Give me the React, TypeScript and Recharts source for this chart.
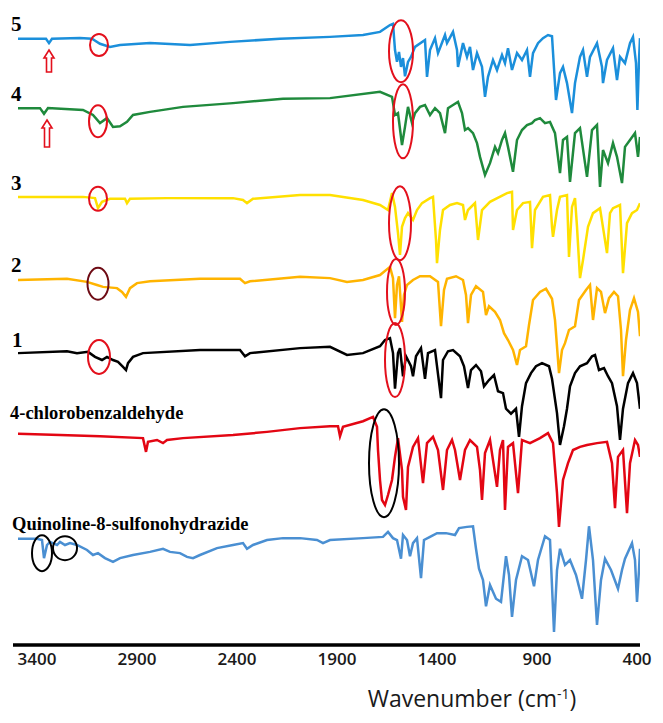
import { LineChart, Line, XAxis, YAxis, ReferenceDot, Customized } from "recharts";

// page has an 8px body margin by default, the figure fills the window
if (typeof document !== "undefined") document.body.style.margin = "0";

type Pt = [number, number]; // [wavenumber cm-1, transmittance (a.u., offset)]

const TICKS = [3400, 2900, 2400, 1900, 1400, 900, 400];

const compound5: Pt[] = [
  [3495, 97.0], [3385, 97.0], [3355, 97.0], [3340, 96.3], [3325, 97.0], [3185, 97.1],
  [3125, 97.0], [3085, 96.2], [3035, 95.7], [2985, 96.0], [2835, 96.3], [2635, 96.0],
  [2435, 96.5], [2185, 97.0], [1935, 97.3], [1770, 97.6], [1685, 98.1], [1635, 99.2],
  [1620, 99.4], [1610, 95.2], [1600, 93.3], [1590, 94.9], [1580, 92.5], [1570, 93.9],
  [1560, 91.0], [1545, 93.3], [1530, 94.1], [1510, 95.7], [1460, 96.8], [1450, 90.9],
  [1435, 95.2], [1410, 97.1], [1395, 94.7], [1360, 97.6], [1350, 96.3], [1320, 98.1],
  [1300, 95.2], [1295, 92.5], [1270, 96.3], [1250, 94.1], [1235, 95.7], [1220, 92.0],
  [1200, 94.7], [1175, 92.5], [1160, 87.7], [1145, 90.9], [1120, 93.6], [1100, 92.0],
  [1075, 94.4], [1060, 93.1], [1045, 95.5], [1025, 92.0], [1000, 94.7], [975, 93.6],
  [950, 95.2], [935, 90.9], [920, 94.7], [895, 96.3], [870, 97.1], [845, 97.6],
  [825, 97.4], [805, 87.2], [785, 91.5], [770, 92.5], [750, 89.9], [725, 85.1],
  [710, 89.9], [685, 94.1], [670, 95.2], [650, 90.9], [635, 94.1], [600, 96.3],
  [575, 92.5], [570, 89.9], [550, 93.6], [520, 95.5], [500, 90.4], [485, 94.1],
  [460, 93.1], [435, 96.3], [420, 97.3], [405, 93.1], [398, 85.6], [390, 93.6], [385, 97.1],
];

const compound4: Pt[] = [
  [3495, 85.9], [3385, 85.9], [3365, 85.0], [3345, 85.9], [3170, 85.6], [3120, 84.8],
  [3085, 83.5], [3050, 84.3], [3020, 82.9], [2985, 83.0], [2950, 83.7], [2920, 84.8],
  [2835, 85.3], [2670, 86.1], [2420, 86.7], [2170, 87.4], [1935, 87.5], [1685, 88.5],
  [1625, 87.7], [1610, 84.8], [1595, 85.1], [1575, 80.0], [1560, 82.9], [1545, 86.1],
  [1525, 83.5], [1510, 85.1], [1485, 86.1], [1460, 86.4], [1435, 84.8], [1410, 85.9],
  [1385, 85.1], [1360, 81.9], [1345, 85.9], [1320, 86.4], [1295, 86.9], [1275, 85.1],
  [1260, 82.4], [1245, 82.7], [1220, 81.9], [1200, 80.3], [1185, 78.1], [1160, 75.2],
  [1135, 77.1], [1110, 79.7], [1095, 78.7], [1075, 80.8], [1060, 81.9], [1045, 79.7],
  [1020, 75.7], [1000, 80.8], [975, 82.4], [950, 83.2], [925, 83.5], [910, 84.0],
  [885, 84.3], [860, 83.5], [835, 83.7], [810, 81.9], [785, 75.5], [770, 80.8],
  [750, 81.3], [735, 74.1], [710, 81.9], [685, 82.7], [650, 74.9], [625, 82.4],
  [600, 83.2], [585, 73.3], [570, 79.2], [545, 77.1], [520, 80.3], [500, 78.1],
  [475, 73.9], [460, 79.7], [435, 80.8], [410, 81.9], [395, 78.1], [385, 81.3],
];

const compound3: Pt[] = [
  [3495, 71.7], [3170, 71.7], [3110, 71.5], [3095, 69.9], [3075, 70.9], [3035, 71.4],
  [2960, 71.4], [2950, 70.7], [2935, 71.4], [2750, 71.5], [2420, 71.5], [2370, 71.2],
  [2350, 70.7], [2320, 71.4], [2085, 72.0], [1935, 72.0], [1770, 71.2], [1685, 70.4],
  [1645, 69.6], [1625, 72.3], [1610, 70.1], [1595, 65.9], [1585, 62.4], [1575, 66.9],
  [1560, 68.3], [1545, 69.1], [1520, 68.0], [1500, 69.6], [1475, 70.7], [1435, 71.5],
  [1420, 71.7], [1405, 64.8], [1400, 61.1], [1385, 66.4], [1370, 69.6], [1335, 70.4],
  [1300, 70.7], [1270, 70.4], [1260, 68.0], [1245, 69.6], [1210, 70.7], [1195, 64.8],
  [1175, 69.6], [1135, 70.9], [1050, 72.3], [1025, 72.5], [1020, 66.4], [1000, 69.6],
  [970, 70.7], [935, 70.9], [925, 63.5], [910, 69.6], [870, 71.7], [835, 72.0],
  [825, 66.9], [820, 65.3], [800, 69.6], [785, 71.7], [750, 72.0], [740, 62.1],
  [725, 70.1], [710, 71.5], [700, 66.9], [685, 58.7], [670, 61.6], [645, 66.9],
  [620, 69.1], [585, 69.9], [550, 62.7], [535, 69.1], [520, 69.9], [485, 70.4],
  [470, 59.5], [450, 67.5], [425, 69.1], [400, 69.6], [385, 70.7],
];

const compound2: Pt[] = [
  [3495, 58.4], [3250, 58.6], [3150, 58.1], [3100, 57.6], [3070, 57.3], [3000, 57.1],
  [2975, 56.5], [2955, 55.7], [2935, 57.1], [2900, 57.9], [2835, 58.2], [2585, 58.6],
  [2385, 58.6], [2360, 57.9], [2335, 58.2], [2085, 58.9], [1935, 58.7], [1850, 58.1],
  [1770, 58.4], [1685, 59.2], [1635, 60.5], [1620, 58.7], [1610, 52.3], [1600, 57.6],
  [1590, 59.0], [1575, 51.7], [1565, 56.0], [1550, 57.6], [1520, 58.4], [1485, 59.0],
  [1435, 59.0], [1395, 58.1], [1380, 51.0], [1365, 56.8], [1350, 58.6], [1305, 59.0],
  [1270, 58.4], [1255, 56.0], [1245, 51.5], [1230, 56.0], [1205, 57.4], [1170, 56.5],
  [1155, 52.8], [1140, 54.2], [1110, 53.3], [1085, 52.0], [1065, 49.9], [1045, 48.8],
  [1020, 47.2], [1000, 44.8], [985, 47.2], [955, 47.8], [940, 51.2], [920, 55.2],
  [885, 56.5], [855, 57.0], [825, 55.4], [810, 52.0], [790, 43.5], [775, 47.2],
  [760, 48.3], [740, 50.4], [710, 51.0], [690, 55.2], [655, 56.8], [635, 57.6],
  [620, 52.0], [600, 57.1], [580, 56.5], [560, 53.1], [540, 55.5], [515, 56.5],
  [495, 55.8], [480, 50.4], [470, 43.0], [455, 48.8], [435, 53.6], [415, 55.5],
  [395, 53.3], [385, 49.4],
];

const compound1: Pt[] = [
  [3495, 46.7], [3250, 47.0], [3200, 46.7], [3145, 46.9], [3110, 46.1], [3075, 45.6],
  [3050, 46.1], [3020, 45.6], [2995, 45.3], [2970, 44.5], [2955, 44.0], [2945, 45.1],
  [2920, 46.1], [2870, 46.7], [2585, 47.2], [2385, 47.2], [2360, 46.2], [2335, 46.7],
  [2085, 47.5], [1935, 47.7], [1850, 46.4], [1770, 46.7], [1685, 47.8], [1660, 48.8],
  [1635, 49.1], [1620, 46.7], [1610, 41.0], [1595, 46.7], [1585, 47.5], [1570, 43.0],
  [1555, 46.2], [1530, 44.6], [1520, 43.0], [1505, 46.2], [1480, 47.5], [1460, 42.6],
  [1445, 46.7], [1410, 47.2], [1380, 39.5], [1370, 45.6], [1345, 47.0], [1320, 47.2],
  [1285, 46.2], [1265, 44.6], [1245, 41.1], [1230, 44.0], [1205, 44.8], [1180, 43.8],
  [1165, 41.4], [1140, 42.4], [1115, 43.2], [1095, 40.6], [1070, 40.3], [1055, 37.8],
  [1030, 37.0], [1005, 37.8], [990, 33.3], [975, 38.2], [955, 41.9], [930, 43.5],
  [905, 44.6], [875, 45.1], [840, 44.6], [825, 42.6], [800, 37.1], [785, 32.0],
  [765, 35.0], [750, 37.8], [735, 41.4], [710, 43.5], [685, 44.6], [650, 45.1],
  [625, 46.2], [610, 46.4], [590, 44.0], [565, 44.3], [545, 43.0], [525, 41.9],
  [500, 38.2], [485, 32.8], [470, 37.8], [445, 41.9], [420, 43.5], [400, 41.9], [385, 37.8],
];

const chlorobenzaldehyde: Pt[] = [
  [3495, 33.8], [3285, 33.6], [3085, 33.4], [2870, 33.1], [2855, 30.9], [2845, 32.5],
  [2800, 32.8], [2770, 32.3], [2750, 32.8], [2670, 33.1], [2420, 33.6], [2250, 34.1],
  [2085, 34.7], [1935, 35.0], [1895, 35.0], [1885, 33.4], [1870, 34.9], [1770, 35.8],
  [1720, 36.5], [1700, 34.9], [1695, 31.2], [1685, 26.4], [1675, 23.2], [1660, 22.4],
  [1645, 24.0], [1625, 26.4], [1610, 30.1], [1595, 33.1], [1575, 28.0], [1570, 23.7],
  [1555, 21.6], [1545, 28.5], [1520, 31.7], [1495, 33.1], [1470, 25.9], [1450, 32.3],
  [1420, 33.3], [1395, 31.2], [1370, 24.8], [1350, 31.2], [1325, 32.8], [1310, 31.2],
  [1285, 26.4], [1260, 31.2], [1235, 32.8], [1200, 31.7], [1185, 28.0], [1175, 23.2],
  [1160, 30.7], [1135, 32.8], [1100, 25.3], [1085, 31.2], [1070, 32.8], [1060, 21.6],
  [1045, 31.7], [1020, 32.3], [995, 24.3], [975, 32.8], [935, 32.3], [885, 33.1],
  [845, 33.9], [820, 32.3], [800, 24.3], [790, 18.9], [770, 26.4], [745, 29.1],
  [720, 31.2], [685, 31.7], [650, 32.0], [600, 32.3], [550, 32.5], [525, 29.1],
  [510, 21.9], [495, 30.1], [470, 31.2], [450, 21.1], [435, 29.1], [410, 32.8],
  [395, 32.0], [385, 30.1],
];

const quinolineSulfonohydrazide: Pt[] = [
  [3495, 17.0], [3400, 17.0], [3375, 16.8], [3365, 13.9], [3350, 16.0], [3335, 16.5],
  [3300, 16.0], [3285, 16.5], [3260, 16.0], [3235, 16.3], [3200, 16.0], [3150, 15.2],
  [3120, 14.4], [3095, 14.7], [3060, 13.9], [3020, 13.3], [2985, 13.9], [2920, 14.4],
  [2835, 14.9], [2770, 15.4], [2735, 14.9], [2685, 14.7], [2650, 14.1], [2620, 13.9],
  [2585, 14.4], [2500, 15.5], [2420, 16.0], [2370, 16.3], [2350, 15.4], [2320, 16.0],
  [2250, 16.8], [2170, 17.1], [2085, 17.1], [2000, 16.8], [1970, 16.3], [1935, 16.8],
  [1770, 17.1], [1670, 17.3], [1645, 18.1], [1620, 17.1], [1600, 16.8], [1580, 13.8],
  [1570, 17.6], [1550, 16.8], [1535, 14.2], [1520, 16.3], [1500, 17.1], [1480, 10.7],
  [1465, 16.8], [1435, 17.3], [1400, 17.9], [1355, 17.9], [1310, 17.6], [1290, 18.7],
  [1250, 18.9], [1220, 19.0], [1205, 15.4], [1190, 12.2], [1170, 10.4], [1155, 6.2],
  [1135, 9.6], [1105, 7.4], [1080, 6.9], [1055, 14.2], [1040, 11.2], [1025, 4.5],
  [1005, 10.4], [975, 14.2], [945, 13.6], [915, 9.4], [895, 13.6], [860, 17.4],
  [835, 16.8], [815, 2.1], [800, 12.0], [785, 15.4], [760, 12.8], [735, 13.6],
  [705, 11.2], [675, 7.4], [655, 13.6], [640, 19.0], [620, 13.6], [600, 3.2],
  [580, 10.4], [560, 13.8], [530, 12.0], [495, 9.0], [475, 12.0], [460, 13.8],
  [425, 16.3], [410, 13.6], [400, 6.9], [390, 12.0], [385, 15.4],
];

const SPECTRA = [
  { name: "5", color: "#1b8fdb", points: compound5 },
  { name: "4", color: "#1f8a3c", points: compound4 },
  { name: "3", color: "#ffe000", points: compound3 },
  { name: "2", color: "#ffb400", points: compound2 },
  { name: "1", color: "#000000", points: compound1 },
  { name: "4-chlorobenzaldehyde", color: "#e30613", points: chlorobenzaldehyde },
  { name: "Quinoline-8-sulfonohydrazide", color: "#4a8fd2", points: quinolineSulfonohydrazide },
];

// circled bands: [wavenumber, transmittance, rx, ry, colour]
const RED = "#e3101c";
const CIRCLES: [number, number, number, number, string][] = [
  [3090, 96.0, 9, 11, RED],
  [3095, 83.8, 9, 16, RED],
  [3095, 71.4, 9, 12, RED],
  [3095, 57.8, 10.5, 16, "#6e0b14"],
  [3090, 46.1, 11, 17, RED],
  [1580, 95.0, 12, 31, RED],
  [1570, 83.8, 10, 37, RED],
  [1585, 67.5, 11, 37, RED],
  [1605, 56.5, 9, 33, RED],
  [1610, 45.6, 10, 37, RED],
  [1665, 29.1, 15, 54, "#000000"],
  [3375, 14.7, 10, 18, "#000000"],
  [3260, 15.5, 12, 12, "#000000"],
];

// hollow arrows under the N-H band of 4 and 5: [wavenumber, tip value, length px]
const ARROWS: [number, number, number][] = [
  [3340, 95.2, 22],
  [3350, 84.0, 27],
];

const rows = (pts: Pt[]) => pts.map(([wn, t]) => ({ wn, t }));

const Labels = () => (
  <g fontFamily="'Liberation Serif', 'Times New Roman', serif" fontWeight="bold" fill="#000">
    <text x={11} y={31} fontSize={21}>5</text>
    <text x={11} y={101} fontSize={21}>4</text>
    <text x={11} y={190} fontSize={21}>3</text>
    <text x={11} y={272} fontSize={21}>2</text>
    <text x={12} y={347} fontSize={21}>1</text>
    <text x={10} y={419} fontSize={18.5}>4-chlorobenzaldehyde</text>
    <text x={12} y={530} fontSize={18.5}>Quinoline-8-sulfonohydrazide</text>
    <text
      x={472}
      y={707}
      textAnchor="middle"
      fontFamily="'Open Sans', sans-serif"
      fontWeight="normal"
      fontSize={23}
      fill="#1a1a1a"
    >
      Wavenumber (cm
      <tspan dy={-8} fontSize={14}>-1</tspan>
      <tspan dy={8}>)</tspan>
    </text>
  </g>
);

export default function App() {
  return (
    <LineChart width={663} height={723} margin={{ top: 20, right: 23, left: 13, bottom: 0 }}>
      <XAxis
        type="number"
        dataKey="wn"
        domain={[385, 3520]}
        reversed
        ticks={TICKS}
        allowDataOverflow
        height={78}
        axisLine={{ stroke: "#000", strokeWidth: 3.5 }}
        tickLine={false}
        tick={{ fontSize: 17, fontWeight: 600, fill: "#1a1a1a", fontFamily: "'Open Sans', sans-serif" }}
      />
      <YAxis type="number" domain={[0, 100]} hide allowDataOverflow />
      {SPECTRA.map((s) => (
        <Line
          key={s.name}
          data={rows(s.points)}
          dataKey="t"
          name={s.name}
          type="linear"
          stroke={s.color}
          strokeWidth={2.5}
          dot={false}
          activeDot={false}
          isAnimationActive={false}
        />
      ))}
      {CIRCLES.map(([wn, t, rx, ry, color], i) => (
        <ReferenceDot
          key={`c${i}`}
          x={wn}
          y={t}
          ifOverflow="visible"
          shape={(p: any) => (
            <ellipse cx={p.cx} cy={p.cy} rx={rx} ry={ry} fill="none" stroke={color} strokeWidth={2} />
          )}
        />
      ))}
      {ARROWS.map(([wn, t, len], i) => (
        <ReferenceDot
          key={`a${i}`}
          x={wn}
          y={t}
          ifOverflow="visible"
          shape={(p: any) => (
            <path
              d={`M${p.cx},${p.cy} l5,8 h-2.5 v${len - 8} h-5 v${-(len - 8)} h-2.5 z`}
              fill="#fff"
              stroke={RED}
              strokeWidth={1.6}
            />
          )}
        />
      ))}
      <Customized component={Labels} />
    </LineChart>
  );
}
